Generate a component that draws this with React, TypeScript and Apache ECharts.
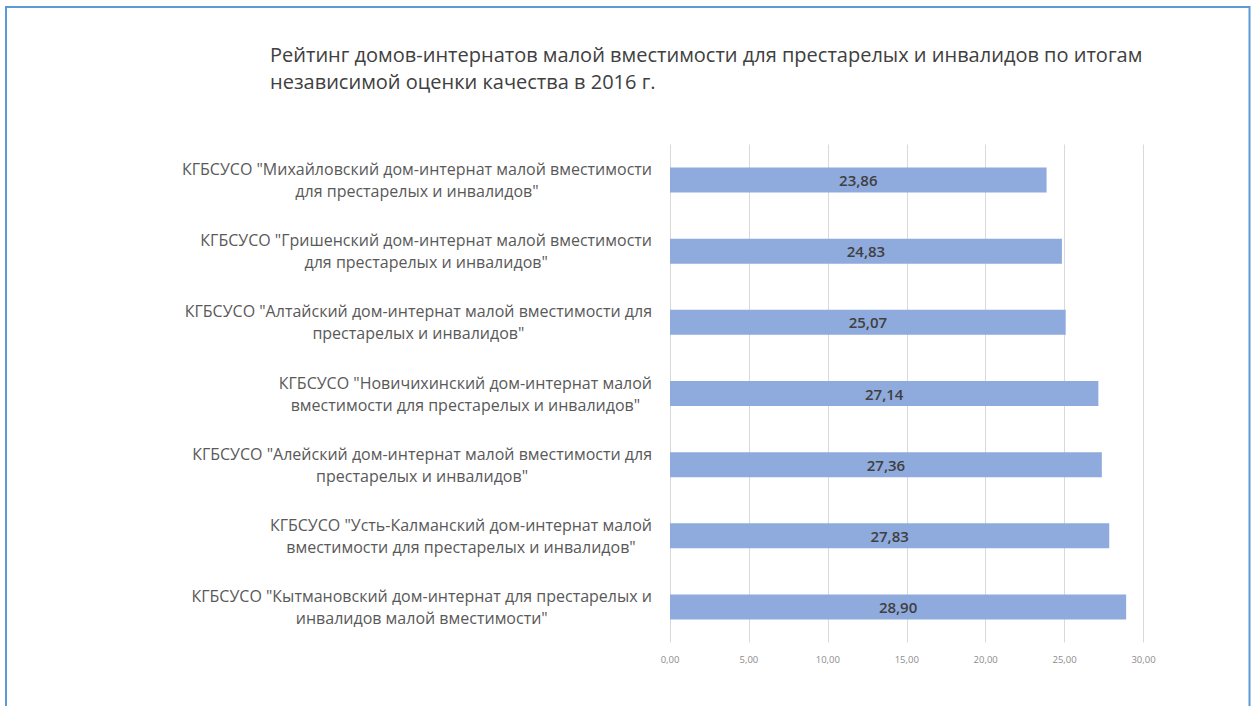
import React, { useEffect, useRef } from "react";
import * as echarts from "echarts";

const titleLines = [
  "Рейтинг домов-интернатов малой вместимости для престарелых и инвалидов по итогам",
  "независимой оценки качества в 2016 г.",
];

const categories = [
  "КГБСУСО \"Михайловский дом-интернат малой вместимости\nдля престарелых и инвалидов\"",
  "КГБСУСО \"Гришенский дом-интернат малой вместимости\nдля престарелых и инвалидов\"",
  "КГБСУСО \"Алтайский дом-интернат малой вместимости для\nпрестарелых и инвалидов\"",
  "КГБСУСО \"Новичихинский дом-интернат малой\nвместимости для престарелых и инвалидов\"",
  "КГБСУСО \"Алейский дом-интернат малой вместимости для\nпрестарелых и инвалидов\"",
  "КГБСУСО \"Усть-Калманский дом-интернат малой\nвместимости для престарелых и инвалидов\"",
  "КГБСУСО \"Кытмановский дом-интернат для престарелых и\nинвалидов малой вместимости\"",
];

const values = [23.86, 24.83, 25.07, 27.14, 27.36, 27.83, 28.9];

const xMin = 0;
const xMax = 30;
const xInterval = 5;

const fmt = (v: number) => v.toFixed(2).replace(".", ",");

export default function App() {
  const ref = useRef<HTMLDivElement>(null);
  useEffect(() => {
    if (!ref.current) return;
    const chart = echarts.init(ref.current, undefined, { renderer: "svg" });
    const font = "'Open Sans', 'Noto Sans', sans-serif";
    chart.setOption({
      animation: false,
      textStyle: { fontFamily: font },
      title: {
        text: titleLines.join("\n"),
        left: 265,
        top: 36,
        textStyle: {
          fontFamily: font,
          fontSize: 20,
          fontWeight: "normal",
          color: "#404040",
          lineHeight: 27,
        },
      },
      graphic: [
        {
          type: "rect",
          shape: { x: 6, y: 7, width: 1243.5, height: 740 },
          style: { fill: "none", stroke: "#5b9bd5", lineWidth: 2 },
          silent: true,
        },
      ],
      grid: { left: 670, right: 1258 - 1143.5, top: 144.5, bottom: 706 - 642.5, containLabel: false },
      xAxis: {
        type: "value",
        min: xMin,
        max: xMax,
        interval: xInterval,
        axisLine: { show: false },
        axisTick: { show: false },
        splitLine: { show: true, lineStyle: { color: "#d9d9d9", width: 1 } },
        axisLabel: {
          formatter: (v: number) => fmt(v),
          fontSize: 9.5,
          color: "#8c8c8c",
          margin: 12,
          fontFamily: font,
        },
      },
      yAxis: {
        type: "category",
        data: categories,
        inverse: true,
        axisLine: { show: false },
        axisTick: { show: false },
        axisLabel: {
          margin: 18,
          formatter: (v: string) =>
            v
              .split("\n")
              .map((l) => `{c|${l}}`)
              .join("\n"),
          rich: {
            c: {
              align: "center",
              fontSize: 16,
              lineHeight: 22,
              color: "#595959",
              fontFamily: font,
            },
          },
        },
      },
      series: [
        {
          type: "bar",
          data: values,
          barWidth: 25,
          itemStyle: { color: "#8faadc" },
          label: {
            show: true,
            position: "inside",
            formatter: (p: any) => fmt(p.value),
            fontSize: 15,
            fontWeight: 600,
            color: "#404040",
            fontFamily: font,
          },
        },
      ],
    });
    return () => chart.dispose();
  }, []);
  return (
    <div
      ref={ref}
      style={{ position: "fixed", left: 0, top: 0, width: 1258, height: 706, background: "#fff" }}
    />
  );
}
